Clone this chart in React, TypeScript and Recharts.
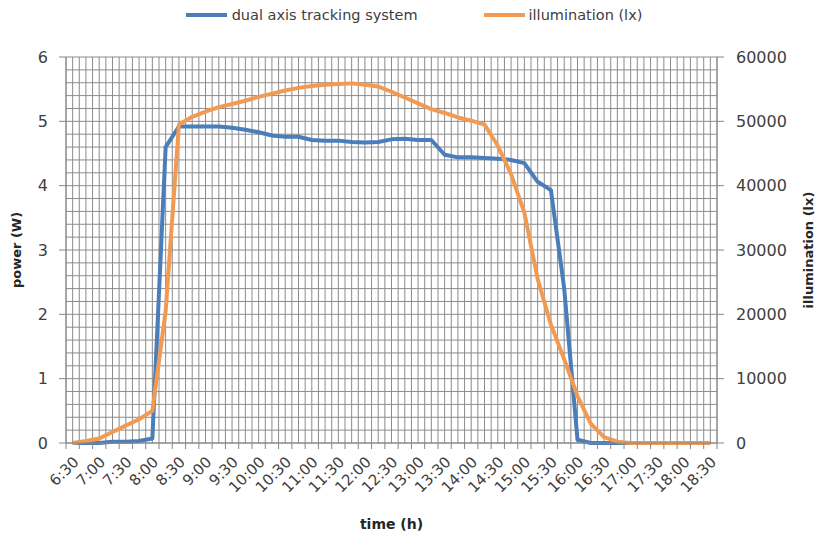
import { LineChart, Line, XAxis, YAxis, CartesianGrid, Legend } from "recharts";

// 15-minute samples, 6:30 .. 18:30
const times = [
  "6:30", "6:45", "7:00", "7:15", "7:30", "7:45", "8:00", "8:15", "8:30", "8:45",
  "9:00", "9:15", "9:30", "9:45", "10:00", "10:15", "10:30", "10:45", "11:00", "11:15",
  "11:30", "11:45", "12:00", "12:15", "12:30", "12:45", "13:00", "13:15", "13:30", "13:45",
  "14:00", "14:15", "14:30", "14:45", "15:00", "15:15", "15:30", "15:45", "16:00", "16:15",
  "16:30", "16:45", "17:00", "17:15", "17:30", "17:45", "18:00", "18:15", "18:30",
];

// dual axis tracking system, W
const power = [
  0, 0, 0, 0.02, 0.02, 0.03, 0.07, 4.6, 4.92, 4.92,
  4.92, 4.92, 4.9, 4.87, 4.83, 4.78, 4.76, 4.76, 4.71, 4.7,
  4.7, 4.68, 4.67, 4.68, 4.72, 4.73, 4.71, 4.71, 4.48, 4.44,
  4.44, 4.43, 4.42, 4.4, 4.35, 4.06, 3.93, 2.4, 0.05, 0,
  0, 0, 0, 0, 0, 0, 0, 0, 0,
];

// illumination, lx
const lux = [
  0, 300, 700, 1700, 2700, 3700, 5000, 20500, 49500, 50700,
  51500, 52200, 52700, 53200, 53800, 54300, 54800, 55200, 55500, 55700,
  55800, 55900, 55700, 55400, 54600, 53700, 52800, 51900, 51300, 50600,
  50100, 49500, 46200, 41800, 35800, 25500, 18400, 13000, 7300, 3000,
  900, 200, 0, 0, 0, 0, 0, 0, 0,
];

const luxTicks = [0, 10000, 20000, 30000, 40000, 50000, 60000];

const data = times.map((t, i) => ({ idx: i, time: t, power: power[i], lux: lux[i] }));

// grid every half category / every 0.2 W
const xGridTicks = Array.from({ length: times.length * 2 + 1 }, (_, k) => k / 2 - 0.5);
const yGridTicks = Array.from({ length: 31 }, (_, k) => k / 5);

const BLUE = "#4A7EBB";
const ORANGE = "#F39A52";
const AXIS = "#868686";
const GRID = "#8c8c8c";
const TEXT = "#404040";
const FONT = "'DejaVu Sans', sans-serif";

const isWhole = (v: number) => Math.abs(v - Math.round(v)) < 1e-6;

const XTick = (props: any) => {
  const { x, y, payload } = props;
  const v = payload.value as number;
  if (!isWhole(v)) {
    return <line x1={x} x2={x} y1={y} y2={y + 6} stroke={AXIS} />;
  }
  const i = Math.round(v);
  if (i % 2 !== 0) return <g />;
  const ax = x + 7;
  const ay = y + 20;
  return (
    <text
      x={ax}
      y={ay}
      transform={`rotate(-45, ${ax}, ${ay})`}
      textAnchor="end"
      fontSize={15}
      fontFamily={FONT}
      fill={TEXT}
    >
      {times[i]}
    </text>
  );
};

const LeftTick = (props: any) => {
  const { x, y, payload } = props;
  const v = payload.value as number;
  if (!isWhole(v)) return <g />;
  return (
    <g>
      <line x1={x - 7} x2={x} y1={y} y2={y} stroke={AXIS} />
      <text x={x - 18} y={y} dy="0.36em" textAnchor="end" fontSize={16} fontFamily={FONT} fill={TEXT}>
        {Math.round(v)}
      </text>
    </g>
  );
};

const renderLegend = () => (
  <div
    style={{
      display: "flex",
      justifyContent: "center",
      alignItems: "center",
      paddingLeft: 12,
      fontFamily: FONT,
      fontSize: 14.5,
      color: TEXT,
    }}
  >
    <span style={{ display: "inline-block", width: 41, height: 4, background: BLUE, marginRight: 5 }} />
    <span>dual axis tracking system</span>
    <span style={{ display: "inline-block", width: 41, height: 4, background: ORANGE, marginLeft: 66, marginRight: 4 }} />
    <span>illumination (lx)</span>
  </div>
);

export default function App() {
  return (
    <div style={{ position: "absolute", left: 0, top: 0 }}>
      <LineChart
        width={816}
        height={538}
        data={data}
        margin={{ top: 57, right: 0, bottom: 0, left: 0 }}
      >
        <CartesianGrid xAxisId={0} yAxisId="left" stroke={GRID} strokeWidth={1} />
        <XAxis
          dataKey="idx"
          type="number"
          domain={[-0.5, times.length - 0.5]}
          allowDataOverflow
          ticks={xGridTicks}
          interval={0}
          tickSize={0}
          tickMargin={0}
          tickLine={false}
          tick={<XTick />}
          height={95}
          stroke={AXIS}
          label={{
            value: "time (h)",
            position: "insideBottom",
            offset: 9,
            fontSize: 14,
            fontWeight: "bold",
            fontFamily: FONT,
            fill: "#262626",
          }}
        />
        <YAxis
          yAxisId="left"
          domain={[0, 6]}
          ticks={yGridTicks}
          interval={0}
          width={66}
          tickSize={0}
          tickMargin={0}
          tickLine={false}
          tick={<LeftTick />}
          stroke={AXIS}
          label={{
            value: "power (W)",
            angle: -90,
            position: "insideLeft",
            offset: 16,
            style: { textAnchor: "middle" },
            fontSize: 13,
            fontWeight: "bold",
            fontFamily: FONT,
            fill: "#262626",
          }}
        />
        <YAxis
          yAxisId="right"
          orientation="right"
          domain={[0, 60000]}
          ticks={luxTicks}
          interval={0}
          width={99}
          tickSize={7}
          tickMargin={12}
          stroke={AXIS}
          tick={{ fontSize: 16, fontFamily: FONT, fill: TEXT }}
          label={{
            value: "illumination (lx)",
            angle: -90,
            position: "insideRight",
            offset: 8,
            style: { textAnchor: "middle" },
            fontSize: 13,
            fontWeight: "bold",
            fontFamily: FONT,
            fill: "#262626",
          }}
        />
        <Legend
          verticalAlign="middle"
          align="center"
          wrapperStyle={{ top: 7, left: 0, width: 816 }}
          content={renderLegend}
        />
        <Line
          yAxisId="left"
          type="linear"
          dataKey="power"
          stroke={BLUE}
          strokeWidth={4}
          strokeLinejoin="round"
          dot={false}
          isAnimationActive={false}
        />
        <Line
          yAxisId="right"
          type="linear"
          dataKey="lux"
          stroke={ORANGE}
          strokeWidth={4}
          strokeLinejoin="round"
          dot={false}
          isAnimationActive={false}
        />
      </LineChart>
    </div>
  );
}
